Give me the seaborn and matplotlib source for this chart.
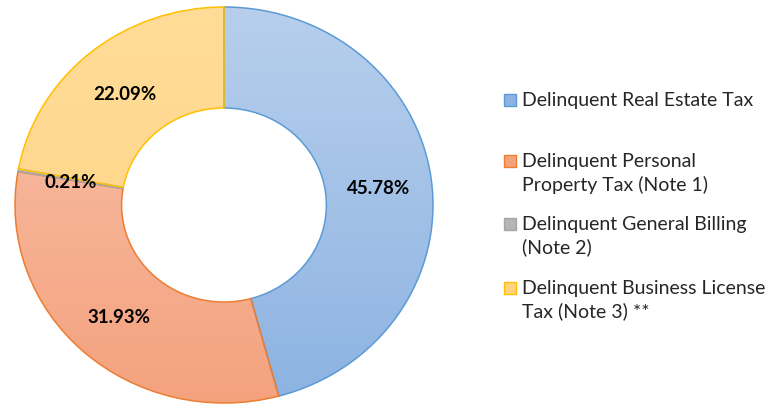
import numpy as np
import matplotlib
matplotlib.use("Agg")
import matplotlib.pyplot as plt
import seaborn as sns
from matplotlib.colors import LinearSegmentedColormap
from matplotlib.patches import Rectangle

# Data
categories = ["Delinquent Real Estate Tax",
              "Delinquent Personal\nProperty Tax (Note 1)",
              "Delinquent General Billing\n(Note 2)",
              "Delinquent Business License\nTax (Note 3) **"]
shares = [45.78, 31.93, 0.21, 22.09]
pct_labels = ["45.78%", "31.93%", "0.21%", "22.09%"]

# colours: (top of gradient, bottom of gradient, edge)
top_colors = ["#B7CFEC", "#F9C2AC", "#C8C8C8", "#FFDC99"]
bottom_colors = ["#8DB3E2", "#F4A27E", "#B5B5B5", "#FFD480"]
edge_colors = ["#5B9BD5", "#ED7D31", "#A5A5A5", "#FFC000"]

sns.set_style("white")
plt.rcParams["font.family"] = ["Lato", "DejaVu Sans"]

W, H = 769, 406
fig = plt.figure(figsize=(W / 100, H / 100), dpi=100)
ax = fig.add_axes([15 / W, 2 / H, 418 / W, 396 / H])

wedges, _ = ax.pie(shares, startangle=90, counterclock=False, radius=1.0,
                   colors=bottom_colors,
                   wedgeprops=dict(width=0.51, linewidth=1.1))
ax.set_aspect("auto")
ax.set_xlim(-1, 1)
ax.set_ylim(-1, 1)
ax.axis("off")

grad = np.linspace(1, 0, 256).reshape(-1, 1)
for w, top, bot, ec in zip(wedges, top_colors, bottom_colors, edge_colors):
    w.set_edgecolor(ec)
    cmap = LinearSegmentedColormap.from_list("g", [bot, top])
    im = ax.imshow(grad, cmap=cmap, extent=(-1, 1, -1, 1), aspect="auto",
                   vmin=0, vmax=1, zorder=w.get_zorder() - 0.01)
    im.set_clip_path(w)
    w.set_facecolor("none")

# percentage labels in the middle of the ring
for w, lab in zip(wedges, pct_labels):
    mid = np.deg2rad((w.theta1 + w.theta2) / 2)
    r = 0.745
    ax.text(r * np.cos(mid), r * np.sin(mid) - 0.01, lab, ha="center", va="center",
            fontsize=13.5, fontweight="bold", color="black", zorder=5)

# legend, drawn item by item so the marker sits on the first line
first_line_y = [101, 162, 225, 289]
for lab, y, top, bot, ec in zip(categories, first_line_y, top_colors,
                                bottom_colors, edge_colors):
    fig.patches.append(Rectangle((504 / W, 1 - (y + 6) / H), 12 / W, 12 / H,
                                 transform=fig.transFigure, facecolor=bot,
                                 edgecolor=ec, linewidth=1.0))
    fig.text(522 / W, 1 - (y - 9) / H, lab, ha="left", va="top",
             fontsize=14, color="#262626", linespacing=1.38)

fig.savefig("out.png", dpi=100)
